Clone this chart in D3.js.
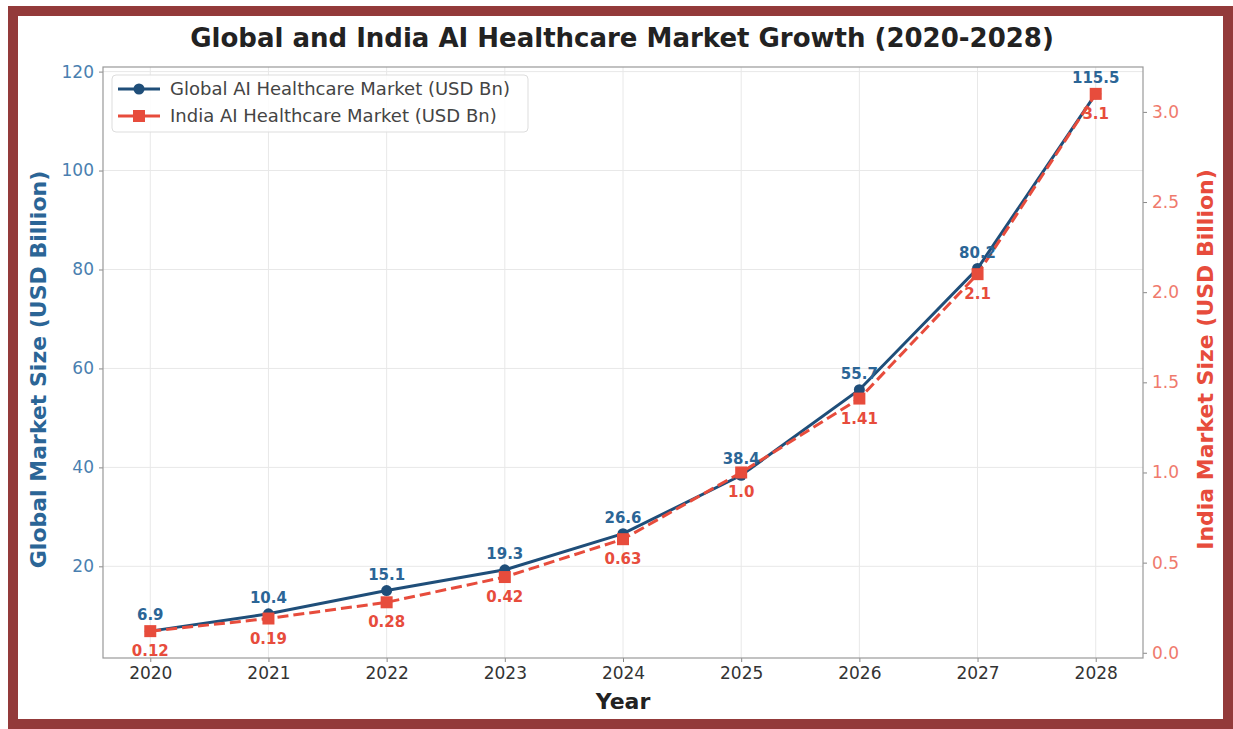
<!DOCTYPE html>
<html>
<head>
<meta charset="utf-8">
<script src="https://cdn.jsdelivr.net/npm/d3@7"></script>
<style>
  body { margin: 0; background: #fff; }
  svg { display: block; }
</style>
</head>
<body>
<div id="chart"></div>
<script>
// datos
const years = [2020, 2021, 2022, 2023, 2024, 2025, 2026, 2027, 2028];
const globalMarket = [6.9, 10.4, 15.1, 19.3, 26.6, 38.4, 55.7, 80.2, 115.5];
const indiaMarket = [0.12, 0.19, 0.28, 0.42, 0.63, 1.0, 1.41, 2.1, 3.1];
const globalTicks = [20, 40, 60, 80, 100, 120];
const indiaTicks = [0.0, 0.5, 1.0, 1.5, 2.0, 2.5, 3.0];
const globalLabels = ['6.9', '10.4', '15.1', '19.3', '26.6', '38.4', '55.7', '80.2', '115.5'];
const indiaLabels = ['0.12', '0.19', '0.28', '0.42', '0.63', '1.0', '1.41', '2.1', '3.1'];

const width = 1233;
const height = 729;
const pLeft = 103, pRight = 1143, pTop = 67, pBottom = 658;
const font = '"DejaVu Sans", sans-serif';

const blue = '#1f4e79';
const blueText = '#2b6596';
const red = '#e74c3c';

const svg = d3.select('#chart').append('svg')
    .attr('width', width)
    .attr('height', height);

// marco exterior
svg.append('rect')
    .attr('x', 13).attr('y', 11)
    .attr('width', 1215).attr('height', 713)
    .attr('fill', '#fff')
    .attr('stroke', '#933a3a')
    .attr('stroke-width', 10);

// escalas con margen del 5%
const pad = (lo, hi) => [lo - (hi - lo) * 0.05, hi + (hi - lo) * 0.05];
const x = d3.scaleLinear().domain(pad(2020, 2028)).range([pLeft, pRight]);
const y1 = d3.scaleLinear().domain(pad(d3.min(globalMarket), d3.max(globalMarket))).range([pBottom, pTop]);
const y2 = d3.scaleLinear().domain(pad(d3.min(indiaMarket), d3.max(indiaMarket))).range([pBottom, pTop]);

// rejilla
const grid = svg.append('g').attr('stroke', '#e8e8e8').attr('stroke-width', 1);
years.forEach(yr => {
    grid.append('line').attr('x1', x(yr)).attr('x2', x(yr)).attr('y1', pTop).attr('y2', pBottom);
});
globalTicks.forEach(t => {
    grid.append('line').attr('x1', pLeft).attr('x2', pRight).attr('y1', y1(t)).attr('y2', y1(t));
});

// ejes
const xAxis = svg.append('g')
    .attr('transform', `translate(0,${pBottom})`)
    .call(d3.axisBottom(x).tickValues(years).tickFormat(d3.format('d')).tickSize(4).tickPadding(5));
xAxis.selectAll('text').attr('fill', '#333').attr('font-size', 17);

const yAxisL = svg.append('g')
    .attr('transform', `translate(${pLeft},0)`)
    .call(d3.axisLeft(y1).tickValues(globalTicks).tickSize(4).tickPadding(5));
yAxisL.selectAll('text').attr('fill', '#4a7fb0').attr('font-size', 17);

const yAxisR = svg.append('g')
    .attr('transform', `translate(${pRight},0)`)
    .call(d3.axisRight(y2).tickValues(indiaTicks).tickFormat(d3.format('.1f')).tickSize(4).tickPadding(5));
yAxisR.selectAll('text').attr('fill', '#ef7a6d').attr('font-size', 17);

[xAxis, yAxisL, yAxisR].forEach(a => {
    a.attr('font-family', font);
    a.select('.domain').remove();
    a.selectAll('.tick line').attr('stroke', '#888');
});

// borde del area de trazado
svg.append('rect')
    .attr('x', pLeft).attr('y', pTop)
    .attr('width', pRight - pLeft).attr('height', pBottom - pTop)
    .attr('fill', 'none')
    .attr('stroke', '#999')
    .attr('stroke-width', 1.2);

// linea global
const lineG = d3.line().x((d, i) => x(years[i])).y(d => y1(d));
svg.append('path')
    .datum(globalMarket)
    .attr('d', lineG)
    .attr('fill', 'none')
    .attr('stroke', blue)
    .attr('stroke-width', 3);
svg.selectAll('.ptG').data(globalMarket).enter().append('circle')
    .attr('cx', (d, i) => x(years[i]))
    .attr('cy', d => y1(d))
    .attr('r', 5.5)
    .attr('fill', blue);

// linea india
const lineI = d3.line().x((d, i) => x(years[i])).y(d => y2(d));
svg.append('path')
    .datum(indiaMarket)
    .attr('d', lineI)
    .attr('fill', 'none')
    .attr('stroke', red)
    .attr('stroke-width', 3)
    .attr('stroke-dasharray', '11,5');
svg.selectAll('.ptI').data(indiaMarket).enter().append('rect')
    .attr('x', (d, i) => x(years[i]) - 6)
    .attr('y', d => y2(d) - 6)
    .attr('width', 12).attr('height', 12)
    .attr('fill', red);

// etiquetas de valores
svg.selectAll('.lblG').data(globalMarket).enter().append('text')
    .attr('x', (d, i) => x(years[i]))
    .attr('y', d => y1(d) - 11)
    .attr('text-anchor', 'middle')
    .attr('font-family', font)
    .attr('font-size', 15)
    .attr('font-weight', 'bold')
    .attr('fill', blueText)
    .text((d, i) => globalLabels[i]);

svg.selectAll('.lblI').data(indiaMarket).enter().append('text')
    .attr('x', (d, i) => x(years[i]))
    .attr('y', d => y2(d) + 25)
    .attr('text-anchor', 'middle')
    .attr('font-family', font)
    .attr('font-size', 15)
    .attr('font-weight', 'bold')
    .attr('fill', red)
    .text((d, i) => indiaLabels[i]);

// titulos
svg.append('text')
    .attr('x', 622).attr('y', 47)
    .attr('text-anchor', 'middle')
    .attr('font-family', font)
    .attr('font-size', 26)
    .attr('font-weight', 'bold')
    .attr('fill', '#222')
    .text('Global and India AI Healthcare Market Growth (2020-2028)');

svg.append('text')
    .attr('x', (pLeft + pRight) / 2).attr('y', 709)
    .attr('text-anchor', 'middle')
    .attr('font-family', font)
    .attr('font-size', 22)
    .attr('font-weight', 'bold')
    .attr('fill', '#222')
    .text('Year');

svg.append('text')
    .attr('transform', `translate(46,${(pTop + pBottom) / 2 + 7}) rotate(-90)`)
    .attr('text-anchor', 'middle')
    .attr('font-family', font)
    .attr('font-size', 22)
    .attr('font-weight', 'bold')
    .attr('fill', blueText)
    .text('Global Market Size (USD Billion)');

svg.append('text')
    .attr('transform', `translate(1213,${(pTop + pBottom) / 2 - 3}) rotate(-90)`)
    .attr('text-anchor', 'middle')
    .attr('font-family', font)
    .attr('font-size', 22)
    .attr('font-weight', 'bold')
    .attr('fill', red)
    .text('India Market Size (USD Billion)');

// leyenda
const legend = svg.append('g').attr('transform', `translate(112,75)`);
legend.append('rect')
    .attr('width', 416).attr('height', 57)
    .attr('rx', 4)
    .attr('fill', '#fff').attr('fill-opacity', 0.85)
    .attr('stroke', '#ddd');
const items = [
    { name: 'Global AI Healthcare Market (USD Bn)', color: blue, shape: 'circle' },
    { name: 'India AI Healthcare Market (USD Bn)', color: red, shape: 'square' }
];
items.forEach((it, i) => {
    const g = legend.append('g').attr('transform', `translate(6,${14 + i * 27})`);
    g.append('line')
        .attr('x1', 0).attr('x2', 42)
        .attr('stroke', it.color).attr('stroke-width', 3);
    if (it.shape === 'circle') {
        g.append('circle').attr('cx', 21).attr('r', 5.5).attr('fill', it.color);
    } else {
        g.append('rect').attr('x', 15).attr('y', -6).attr('width', 12).attr('height', 12).attr('fill', it.color);
    }
    g.append('text')
        .attr('x', 52).attr('y', 6)
        .attr('font-family', font)
        .attr('font-size', 18)
        .attr('fill', '#444')
        .text(it.name);
});
</script>
</body>
</html>
